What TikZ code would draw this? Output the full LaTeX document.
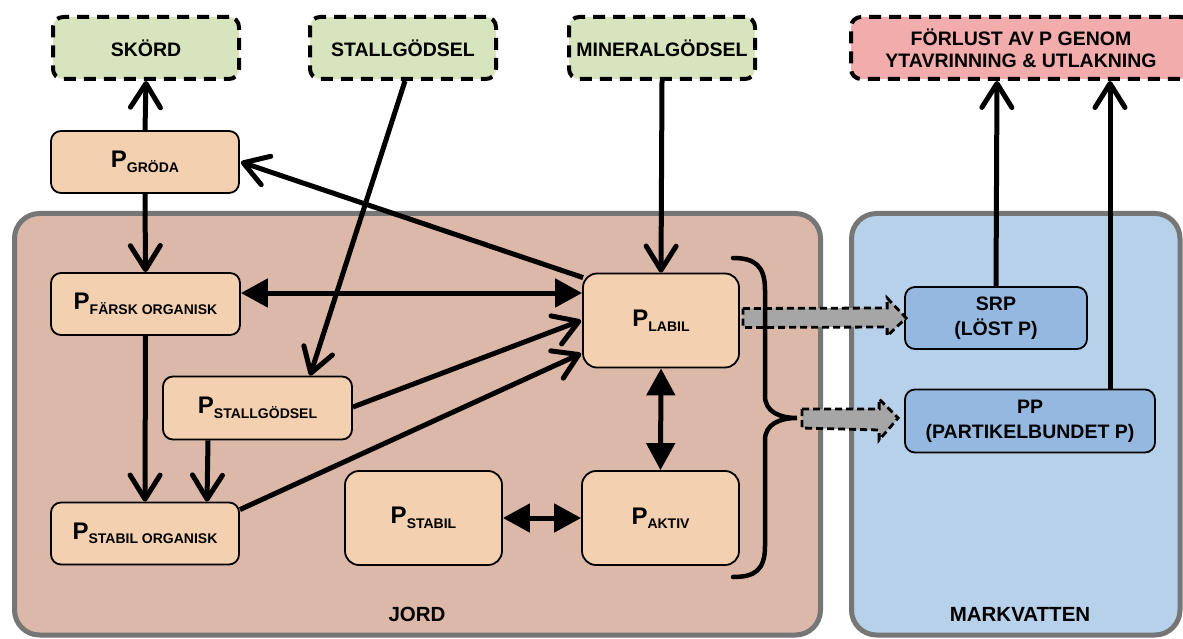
\documentclass[tikz,border=0pt]{standalone}
\usepackage{fontspec}
\setmainfont{Liberation Sans}
\usetikzlibrary{arrows.meta,calc}
\definecolor{cGreen}{HTML}{D7E4BD}
\definecolor{cPink}{HTML}{F2ACAC}
\definecolor{cJord}{HTML}{DCB8A9}
\definecolor{cVatten}{HTML}{B8D1EA}
\definecolor{cP}{HTML}{F3D0AF}
\definecolor{cBlue}{HTML}{95B8E0}
\definecolor{cFat}{HTML}{A6A6A6}
\definecolor{cFrame}{HTML}{767676}
\newcommand\Psub[1]{P\raisebox{-4.5pt}{\fontsize{14}{14}\selectfont #1}}
\begin{document}
\begin{tikzpicture}[x=1pt,y=-1pt,
  container/.style={draw=cFrame, line width=5pt, rounded corners=25pt},
  topbox/.style={draw, line width=4pt, dash pattern=on 12pt off 8pt, rounded corners=10pt,
    minimum width=186pt, minimum height=62pt, align=center, inner sep=0pt,
    font=\fontsize{19.5}{22}\selectfont\bfseries},
  pbox/.style={draw, line width=1.8pt, fill=cP, rounded corners=10pt, inner sep=0pt,
    font=\fontsize{24}{26}\selectfont\bfseries},
  wbox/.style={draw, line width=1.8pt, fill=cBlue, rounded corners=10pt, inner sep=0pt,
    align=center, font=\fontsize{19.5}{25}\selectfont\bfseries},
  lbl/.style={font=\fontsize{20.5}{22}\selectfont\bfseries},
  oarr/.style={line width=5pt, -{Straight Barb[length=24pt,width=30pt,round]}},
  darr/.style={line width=5pt, {Triangle[length=27pt,width=28pt]}-{Triangle[length=27pt,width=28pt]}},
  fat/.style={draw, fill=cFat, line width=2.8pt, dash pattern=on 7pt off 4pt},
  brace/.style={line width=4.5pt, line cap=round}
]
\useasboundingbox (0,0) rectangle (1183,639);
\clip (0,0) rectangle (1183,639);

% containers
\draw[container, fill=cJord] (14.5,213.5) rectangle (820.5,635);
\draw[container, fill=cVatten] (851.5,213.5) rectangle (1180,635);
\node[lbl] (jord) at (417,614) {JORD};
\node[lbl] (mv) at (1020,614) {MARKVATTEN};

% top boxes
\node[topbox, fill=cGreen] (skord) at (146,48) {SKÖRD};
\node[topbox, fill=cGreen] (stall) at (403,48) {STALLGÖDSEL};
\node[topbox, fill=cGreen] (mineral) at (662,48) {MINERALGÖDSEL};
\node[topbox, fill=cPink, minimum width=340pt] (forlust) at (1021,48) {FÖRLUST AV P GENOM\\YTAVRINNING \& UTLAKNING};

% P boxes
\node[pbox, minimum width=188pt, minimum height=62pt] (groda) at (145,162) {\Psub{GRÖDA}};
\node[pbox, minimum width=189pt, minimum height=62pt] (farsk) at (145.5,304) {\Psub{FÄRSK ORGANISK}};
\node[pbox, minimum width=189pt, minimum height=63pt] (pstall) at (257.5,408) {\Psub{STALLGÖDSEL}};
\node[pbox, minimum width=188pt, minimum height=62pt] (sorg) at (145,533.5) {\Psub{STABIL ORGANISK}};
\node[pbox, minimum width=156pt, minimum height=94pt, rounded corners=14pt] (labil) at (661,320.5) {\Psub{LABIL}};
\node[pbox, minimum width=157pt, minimum height=94pt, rounded corners=14pt] (stabil) at (423.5,518) {\Psub{STABIL}};
\node[pbox, minimum width=157pt, minimum height=94pt, rounded corners=14pt] (aktiv) at (660.5,518) {\Psub{AKTIV}};

% water boxes
\node[wbox, minimum width=182pt, minimum height=62pt] (srp) at (996,318) {SRP\\(LÖST P)};
\node[wbox, minimum width=250pt, minimum height=63pt] (pp) at (1030,421) {PP\\(PARTIKELBUNDET P)};

% connectors
\draw[oarr] (groda.north) -- (skord.south);
\draw[oarr] ($(labil.north west)+(1,5)$) -- ($(groda.east)+(1,0)$);
\draw[oarr] (groda.south) -- (farsk.north);
\draw[darr] ($(farsk.east)+(0,-11)$) -- ($(labil.west)+(0,-27.5)$);
\draw[oarr] ($(stall.south)+(2,0)$) -- ($(pstall.north)+(52.5,0)$);
\draw[oarr] (mineral.south) -- (labil.north);
\draw[oarr] (farsk.south) -- (sorg.north);
\draw[oarr] ($(pstall.south)+(-49.5,0)$) -- ($(sorg.north)+(62,0)$);
\draw[oarr] ($(pstall.east)+(0,-1)$) -- ($(labil.west)+(-1,0)$);
\draw[oarr] ($(sorg.north east)+(0,8)$) -- ($(labil.west)+(-1,33)$);
\draw[darr] (labil.south) -- (aktiv.north);
\draw[darr] (stabil.east) -- (aktiv.west);
\draw[oarr] (srp.north) -- ($(forlust.south)+(-24,0)$);
\draw[oarr] ($(pp.north)+(80,0)$) -- ($(forlust.south)+(89,0)$);

% fat dashed arrows
\coordinate (bt) at (797,418);
\draw[fat] ($(labil.east)+(3,-12)$) -- ($(srp.west)+(-17,-10)$) -- ($(srp.west)+(-17,-20)$)
  -- ($(srp.west)+(2,0)$) -- ($(srp.west)+(-17,18)$) -- ($(srp.west)+(-17,9)$)
  -- ($(labil.east)+(3,7)$) -- cycle;
\draw[fat] ($(bt)+(5,-9)$) -- ($(pp.west)+(-25,-12)$) -- ($(pp.west)+(-25,-22)$)
  -- ($(pp.west)+(-6,-3)$) -- ($(pp.west)+(-25,19)$) -- ($(pp.west)+(-25,9)$)
  -- ($(bt)+(5,10)$) -- cycle;

% brace
\draw[brace] (733,258) .. controls (755,258) and (765,266) .. (765,290)
  -- (765,396) .. controls (765,412) and (780,418) .. (bt)
  .. controls (780,418) and (765,424) .. (765,440)
  -- (765,546) .. controls (765,570) and (755,577) .. (733,577);
\end{tikzpicture}
\end{document}
